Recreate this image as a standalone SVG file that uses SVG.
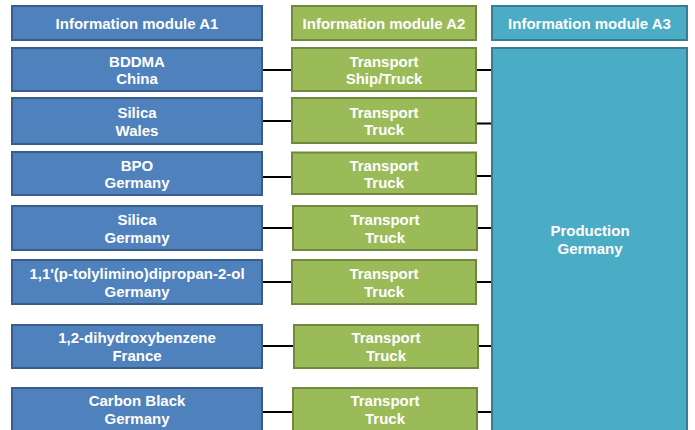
<svg xmlns="http://www.w3.org/2000/svg" width="695" height="430" viewBox="0 0 695 430">
<style>
.a1{fill:#4F81BD;stroke:#385D8A;stroke-width:2}
.a2{fill:#9BBB59;stroke:#71893F;stroke-width:2}
.a3{fill:#4BACC6;stroke:#357D91;stroke-width:2}
text{font-family:"Liberation Sans",Arial,sans-serif;font-weight:bold;font-size:15px;fill:#FFFFFF;text-anchor:middle}
.c{stroke:#000000;stroke-width:2;fill:none}
</style>
<rect width="695" height="430" fill="#FFFFFF"/>
<g id="connectors">
<line class="c" x1="262" y1="70" x2="292" y2="70"/>
<line class="c" x1="476" y1="70" x2="492" y2="70"/>
<line class="c" x1="262" y1="121" x2="292" y2="121"/>
<line class="c" x1="476" y1="123.5" x2="492" y2="123.5"/>
<line class="c" x1="262" y1="177" x2="292" y2="177"/>
<line class="c" x1="476" y1="176" x2="492" y2="176"/>
<line class="c" x1="262" y1="228" x2="293" y2="228"/>
<line class="c" x1="477" y1="228" x2="492" y2="228"/>
<line class="c" x1="262" y1="282" x2="292" y2="282"/>
<line class="c" x1="476" y1="282" x2="492" y2="282"/>
<line class="c" x1="262" y1="346" x2="294" y2="346"/>
<line class="c" x1="478" y1="346" x2="492" y2="346"/>
<line class="c" x1="262" y1="412" x2="293" y2="412"/>
<line class="c" x1="477" y1="412" x2="492" y2="412"/>
</g>
<g id="hdrA1"><rect class="a1" x="12" y="6" width="250" height="34"/><text x="137" y="29">Information module A1</text></g>
<g id="hdrA2"><rect class="a2" x="292" y="6" width="184" height="34"/><text x="384" y="29">Information module A2</text></g>
<g id="hdrA3"><rect class="a3" x="492" y="6" width="195" height="34"/><text x="589.5" y="29">Information module A3</text></g>

<g id="s1"><rect class="a1" x="12" y="48" width="250" height="43"/><text x="137" y="66.5">BDDMA</text><text x="137" y="84">China</text></g>
<g id="s2"><rect class="a1" x="12" y="98" width="250" height="46"/><text x="137" y="118">Silica</text><text x="137" y="135.5">Wales</text></g>
<g id="s3"><rect class="a1" x="12" y="152" width="250" height="43"/><text x="137" y="170.5">BPO</text><text x="137" y="188">Germany</text></g>
<g id="s4"><rect class="a1" x="12" y="206" width="250" height="44"/><text x="137" y="225">Silica</text><text x="137" y="242.5">Germany</text></g>
<g id="s5"><rect class="a1" x="12" y="260" width="250" height="44"/><text x="137" y="279">1,1'(p-tolylimino)dipropan-2-ol</text><text x="137" y="296.5">Germany</text></g>
<g id="s6"><rect class="a1" x="12" y="325" width="250" height="43"/><text x="137" y="343">1,2-dihydroxybenzene</text><text x="137" y="360.5">France</text></g>
<g id="s7"><rect class="a1" x="12" y="388" width="250" height="44"/><text x="137" y="406">Carbon Black</text><text x="137" y="423.5">Germany</text></g>

<g id="t1"><rect class="a2" x="292" y="48" width="184" height="43"/><text x="384" y="66.5">Transport</text><text x="384" y="84">Ship/Truck</text></g>
<g id="t2"><rect class="a2" x="292" y="98" width="184" height="45"/><text x="384" y="117.5">Transport</text><text x="384" y="135">Truck</text></g>
<g id="t3"><rect class="a2" x="292" y="152.5" width="184" height="41.5"/><text x="384" y="170.5">Transport</text><text x="384" y="188">Truck</text></g>
<g id="t4"><rect class="a2" x="293" y="206" width="184" height="44"/><text x="385" y="225">Transport</text><text x="385" y="242.5">Truck</text></g>
<g id="t5"><rect class="a2" x="292" y="260" width="184" height="44"/><text x="384" y="279">Transport</text><text x="384" y="296.5">Truck</text></g>
<g id="t6"><rect class="a2" x="294" y="325" width="184" height="43"/><text x="386" y="343">Transport</text><text x="386" y="360.5">Truck</text></g>
<g id="t7"><rect class="a2" x="293" y="388" width="184" height="44"/><text x="385" y="406">Transport</text><text x="385" y="423.5">Truck</text></g>

<g id="production"><rect class="a3" x="492" y="48" width="195" height="386"/><text x="590" y="236">Production</text><text x="590" y="253.5">Germany</text></g>
</svg>
